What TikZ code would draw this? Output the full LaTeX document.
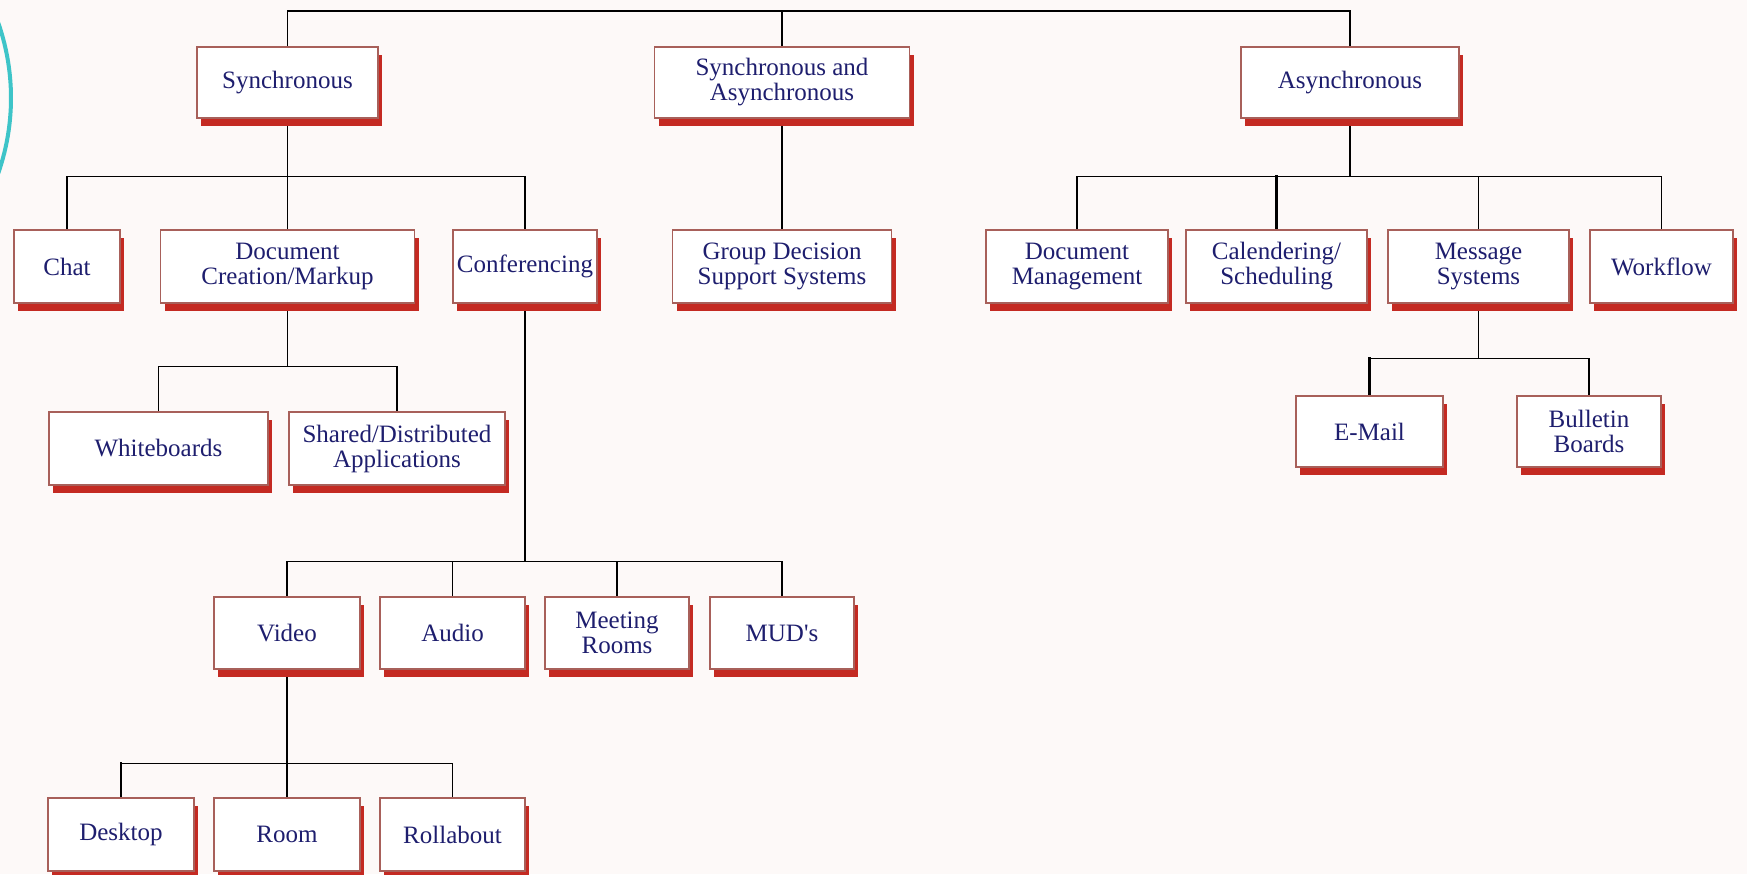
\documentclass[tikz,border=0pt]{standalone}
\usepackage{fontspec}
\setmainfont{Liberation Serif}
\usetikzlibrary{shadows,backgrounds}
\definecolor{paper}{HTML}{FDF9F8}
\definecolor{boxedge}{HTML}{A8605A}
\definecolor{boxshadow}{HTML}{C42A22}
\definecolor{labelblue}{HTML}{1E1E6E}
\definecolor{tealarc}{HTML}{3EC4C8}
\tikzset{
  box/.style={draw=boxedge, line width=0.75pt, fill=white, text=labelblue, align=center,
    inner sep=0pt, font=\fontsize{12.5}{12.5}\selectfont,
    drop shadow={shadow xshift=2pt, shadow yshift=-3.75pt, fill=boxshadow, opacity=1}},
  link/.style={line width=0.7pt},
  boldlink/.style={line width=1.3pt}
}
\begin{document}
\begin{tikzpicture}[x=0.5pt,y=-0.5pt]
\useasboundingbox (0,0) rectangle (1747,874);
% top row
\node[box, minimum width=90.5pt, minimum height=35.5pt] (sync) at (287.5,82.5) {Synchronous};
\node[box, minimum width=127.5pt, minimum height=35.5pt] (both) at (782,82.5) {Synchronous and\\Asynchronous};
\node[box, minimum width=109pt, minimum height=35.5pt] (async) at (1350,82.5) {Asynchronous};
% second row
\node[box, minimum width=53pt, minimum height=36.5pt] (chat) at (67,266.5) {Chat};
\node[box, minimum width=127pt, minimum height=36.5pt] (doccreate) at (287.5,266.5) {Document\\Creation/Markup};
\node[box, minimum width=72pt, minimum height=36.5pt] (conf) at (525,266.5) {Conferencing};
\node[box, minimum width=109.5pt, minimum height=36.5pt] (gdss) at (782,266.5) {Group Decision\\Support Systems};
\node[box, minimum width=91pt, minimum height=36.5pt] (docmgmt) at (1077,266.5) {Document\\Management};
\node[box, minimum width=90.5pt, minimum height=36.5pt] (calendar) at (1276.5,266.5) {Calendering/\\Scheduling};
\node[box, minimum width=90.5pt, minimum height=36.5pt] (message) at (1478.5,266.5) {Message\\Systems};
\node[box, minimum width=71.5pt, minimum height=36.5pt] (workflow) at (1661.5,266.5) {Workflow};
% third row
\node[box, minimum width=109.5pt, minimum height=36.5pt] (white) at (158.5,448.5) {Whiteboards};
\node[box, minimum width=108pt, minimum height=36.5pt] (shared) at (397,448.5) {Shared/Distributed\\Applications};
\node[box, minimum width=73.5pt, minimum height=35.5pt] (email) at (1369.5,431.5) {E-Mail};
\node[box, minimum width=72pt, minimum height=35.5pt] (bboard) at (1589,431.5) {Bulletin\\Boards};
% conferencing kinds
\node[box, minimum width=73pt, minimum height=36pt] (video) at (287,633) {Video};
\node[box, minimum width=72.5pt, minimum height=36pt] (audio) at (452.5,633) {Audio};
\node[box, minimum width=72pt, minimum height=36pt] (meeting) at (617,633) {Meeting\\Rooms};
\node[box, minimum width=72pt, minimum height=36pt] (muds) at (782,633) {MUD\textquotesingle s};
% video kinds
\node[box, minimum width=73pt, minimum height=36.5pt] (desktop) at (121,834.5) {Desktop};
\node[box, minimum width=73pt, minimum height=36.5pt] (room) at (287,834.5) {Room};
\node[box, minimum width=72.5pt, minimum height=36.5pt] (rollabout) at (452.5,834.5) {Rollabout};
\coordinate (top) at (782,11);
\begin{scope}[on background layer]
  \fill[paper] (0,0) rectangle (1747,874);
  \draw[tealarc, line width=2pt] (-5.6,12.6) arc[start angle=-22, end angle=22, radius=228];
  \draw[link] (sync.north) |- (top) -| (async.north);
  \draw[link] (top) -- (both.north);
  \draw[link] (both.south) -- (gdss.north);
  \draw[link] (sync.south) -- +(0,58) -| (chat.north);
  \draw[link] (sync.south) -- (doccreate.north);
  \draw[link] (sync.south) -- +(0,58) -| (conf.north);
  \draw[link] (async.south) -- +(0,58) -| (docmgmt.north);
  \draw[link] (async.south) -- +(0,58) -| (calendar.north);
  \draw[boldlink] (calendar.north) -- +(0,-54);
  \draw[link] (async.south) -- +(0,58) -| (message.north);
  \draw[link] (async.south) -- +(0,58) -| (workflow.north);
  \draw[link] (doccreate.south) -- +(0,63) -| (white.north);
  \draw[link] (doccreate.south) -- +(0,63) -| (shared.north);
  \draw[link] (message.south) -- +(0,55) -| (email.north);
  \draw[boldlink] (email.north) -- +(0,-38);
  \draw[link] (message.south) -- +(0,55) -| (bboard.north);
  \draw[link] (conf.south) -- +(0,258) -| (video.north);
  \draw[link] (conf.south) -- +(0,258) -| (audio.north);
  \draw[link] (conf.south) -- +(0,258) -| (meeting.north);
  \draw[link] (conf.south) -- +(0,258) -| (muds.north);
  \draw[link] (video.south) -- +(0,94) -| (desktop.north);
  \draw[boldlink] (desktop.north) -- +(0,-35);
  \draw[link] (video.south) -- (room.north);
  \draw[link] (video.south) -- +(0,94) -| (rollabout.north);
\end{scope}
\end{tikzpicture}
\end{document}
